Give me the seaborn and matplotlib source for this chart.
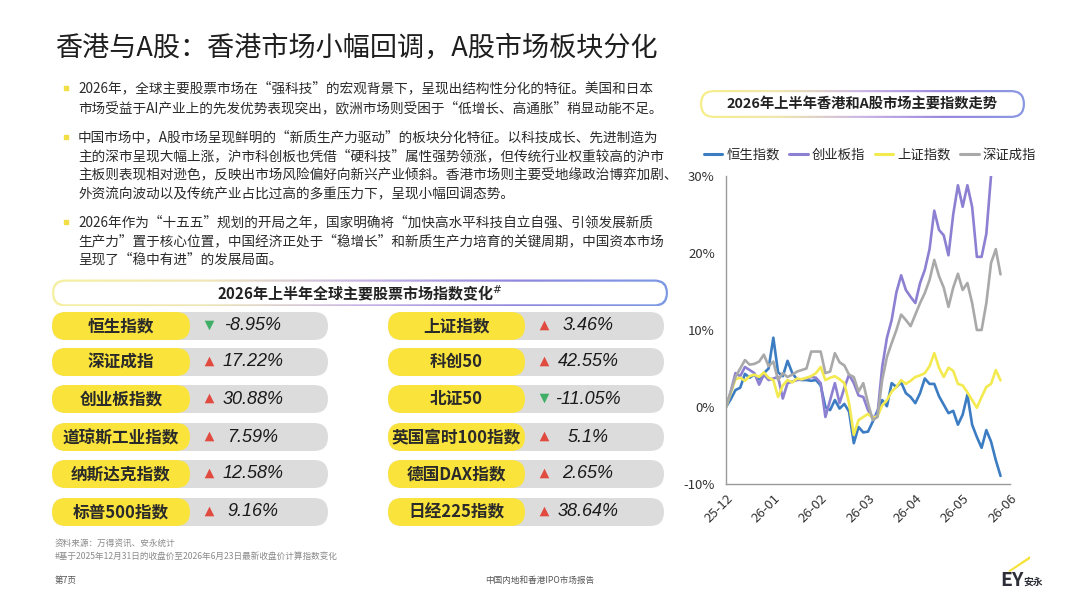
import numpy as np
import pandas as pd
import seaborn as sns
import matplotlib.pyplot as plt
from matplotlib.patches import FancyBboxPatch, Polygon
from matplotlib.lines import Line2D
from matplotlib.colors import LinearSegmentedColormap

sns.set_theme(style='white')
plt.rcParams['font.family'] = ['Noto Sans CJK SC', 'DejaVu Sans']

# ---- data ----
days = list(range(0, 117, 2))
hsi = [0.0, 1.0, 2.2, 2.5, 4.3, 3.8, 4.2, 3.6, 4.4, 5.0, 9.0, 4.5, 4.0, 6.0, 4.4, 3.6, 3.5, 3.5, 3.4, 3.5,
       2.8, 0.0, -0.4, 0.9, -0.2, 0.4, -0.6, -4.7, -2.6, -3.3, -3.2, -1.9, -0.5, 0.9, 0.1, 3.1, 2.6, 3.2, 1.8, 1.3,
       0.5, 1.8, 3.7, 3.0, 3.0, 1.4, 0.3, -0.8, -0.5, -2.3, -1.0, 1.6, -2.3, -3.9, -5.3, -3.0, -4.5, -6.9, -8.95]
chinext = [0.0, 2.0, 4.4, 4.0, 5.2, 4.8, 4.4, 2.9, 4.2, 3.5, 3.7, 3.9, 1.1, 3.1, 3.3, 3.5, 3.6, 3.7, 3.9, 3.8,
           3.1, -1.3, 0.9, 3.1, 0.5, 2.5, 4.2, 3.1, 1.5, 1.3, -0.4, -1.4, -1.0, 5.2, 9.0, 11.3, 14.9, 17.1, 15.2, 14.3,
           13.5, 16.1, 17.8, 20.5, 25.5, 23.0, 22.3, 19.7, 25.0, 28.8, 26.0, 28.8, 26.0, 19.5, 19.5, 22.5, 30.1, 31.5, 30.88]
sse = [0.0, 1.8, 3.6, 3.8, 3.4, 4.0, 4.2, 3.9, 4.5, 3.8, 3.5, 1.3, 2.8, 3.5, 3.2, 3.7, 3.6, 3.8, 4.0, 4.4,
       5.2, 3.5, 3.8, 4.0, 3.6, 3.1, 0.5, -3.6, -1.7, -1.3, -0.9, -1.4, -1.2, 0.2, 0.9, 2.0, 2.6, 3.5, 3.0, 3.4,
       3.9, 4.1, 4.4, 5.3, 7.0, 5.1, 3.9, 5.1, 4.7, 3.0, 2.8, 1.9, 0.9, -0.1, 1.3, 2.6, 3.0, 4.8, 3.46]
szse = [0.0, 2.0, 3.9, 5.0, 6.1, 5.5, 5.6, 5.9, 6.8, 5.3, 5.9, 3.5, 4.4, 3.9, 4.2, 4.6, 4.8, 5.0, 7.2, 7.2,
        7.2, 4.4, 4.6, 7.0, 5.8, 5.4, 4.2, 3.9, 2.0, 3.1, 0.5, -1.7, -1.3, 3.5, 6.5, 8.3, 10.0, 12.0, 11.3, 10.5,
        12.0, 13.5, 14.8, 16.5, 19.1, 17.0, 15.5, 13.0, 15.5, 17.3, 15.2, 16.1, 13.5, 10.0, 10.0, 13.5, 18.7, 20.5, 17.22]
series_names = ['恒生指数', '创业板指', '上证指数', '深证成指']
series_colors = ['#3b7cc3', '#8c80d2', '#f3ea50', '#a9a9a9']
month_ticks = [0, 20, 40, 60, 80, 100, 120]
month_labels = ['25-12', '26-01', '26-02', '26-03', '26-04', '26-05', '26-06']
y_ticks = [-10, 0, 10, 20, 30]

left_names = ['恒生指数', '深证成指', '创业板指数', '道琼斯工业指数', '纳斯达克指数', '标普500指数']
left_values = [-8.95, 17.22, 30.88, 7.59, 12.58, 9.16]
right_names = ['上证指数', '科创50', '北证50', '英国富时100指数', '德国DAX指数', '日经225指数']
right_values = [3.46, 42.55, -11.05, 5.1, 2.65, 38.64]

title = '香港与A股：香港市场小幅回调，A股市场板块分化'
bullets = [
    ['2026年，全球主要股票市场在“强科技”的宏观背景下，呈现出结构性分化的特征。美国和日本',
     '市场受益于AI产业上的先发优势表现突出，欧洲市场则受困于“低增长、高通胀”稍显动能不足。'],
    ['中国市场中，A股市场呈现鲜明的“新质生产力驱动”的板块分化特征。以科技成长、先进制造为',
     '主的深市呈现大幅上涨，沪市科创板也凭借“硬科技”属性强势领涨，但传统行业权重较高的沪市',
     '主板则表现相对逊色，反映出市场风险偏好向新兴产业倾斜。香港市场则主要受地缘政治博弈加剧、',
     '外资流向波动以及传统产业占比过高的多重压力下，呈现小幅回调态势。'],
    ['2026年作为“十五五”规划的开局之年，国家明确将“加快高水平科技自立自强、引领发展新质',
     '生产力”置于核心位置，中国经济正处于“稳增长”和新质生产力培育的关键周期，中国资本市场',
     '呈现了“稳中有进”的发展局面。'],
]

fig = plt.figure(figsize=(10.8, 6.07), dpi=100)
bg = fig.add_axes([0, 0, 1, 1])
bg.set_xlim(0, 1080)
bg.set_ylim(607, 0)
bg.axis('off')


def pill(ax, x0, yc, w, h, color, z=2):
    p = FancyBboxPatch((x0, yc - h / 2), w, h, boxstyle=f'round,pad=0,rounding_size={h / 2}',
                       facecolor=color, edgecolor='none', zorder=z)
    ax.add_patch(p)
    return p


def gradient_pill(ax, x0, yc, w, h, colors, lw=2.2):
    outer = pill(ax, x0, yc, w, h, 'none', z=2)
    cmap = LinearSegmentedColormap.from_list('edge', colors)
    grad = np.linspace(0, 1, 256).reshape(1, -1)
    im = ax.imshow(grad, cmap=cmap, extent=(x0, x0 + w, yc + h / 2, yc - h / 2), aspect='auto', zorder=2)
    im.set_clip_path(outer)
    pill(ax, x0 + lw, yc, w - 2 * lw, h - 2 * lw, 'white', z=3)


# title
bg.text(55, 48, title, fontsize=19.5, color='#1e1e1e', va='center', ha='left')

# bullets
line_y = [[88, 108], [137, 156, 175, 194], [222, 241, 260]]
for para, ys in zip(bullets, line_y):
    bg.scatter([66], [ys[0]], marker='s', s=9, color='#f2df45', zorder=4)
    for line, y in zip(para, ys):
        bg.text(78, y, line, fontsize=9.8, color='#2a2a2a', va='center', ha='left')

# table header
gradient_pill(bg, 52, 293, 616, 27, ['#f6f0a0', '#efe7b8', '#c9b5e6', '#8f86de', '#7d9ae4'])
bg.text(360, 293, '2026年上半年全球主要股票市场指数变化$^{\\#}$', fontsize=10.8, fontweight='bold',
        color='#222222', va='center', ha='center', zorder=5)

# table rows
row_y = [326, 362, 399, 437, 474, 512]
cols = [(52, 190, 328, left_names, left_values), (388, 525, 664, right_names, right_values)]
for x0, xmid, x1, names, vals in cols:
    for y, name, v in zip(row_y, names, vals):
        pill(bg, x0, y, x1 - x0, 28, '#dcdcdc', z=2)
        pill(bg, x0, y, xmid - x0, 28, '#fae43c', z=3)
        bg.text((x0 + xmid) / 2, y, name, fontsize=12, fontweight='bold', color='#2a2a2a',
                va='center', ha='center', zorder=5)
        up = v >= 0
        bg.scatter([xmid + 19], [y - 1], marker='^' if up else 'v', s=48,
                   color='#e04a3f' if up else '#3fae66', zorder=5, linewidths=0)
        bg.text(xmid + 63, y, f'{v:g}%', fontsize=13, style='italic', family='Liberation Sans',
                color='#1a1a1a', va='center', ha='center', zorder=5)

# footnotes
bg.text(55, 543, '资料来源：万得资讯、安永统计', fontsize=6.2, color='#8a8a8a', va='center')
bg.text(55, 556, '#基于2025年12月31日的收盘价至2026年6月23日最新收盘价计算指数变化', fontsize=6.2,
        color='#8a8a8a', va='center')
bg.text(55, 580, '第7页', fontsize=6.2, color='#555555', va='center')
bg.text(540, 580, '中国内地和香港IPO市场报告', fontsize=6.2, color='#555555', va='center', ha='center')
bg.text(1000, 580, 'EY', fontsize=14, fontweight='bold', color='#2e2e38', va='center', ha='left')
bg.text(1023, 582, '安永', fontsize=7, fontweight='bold', color='#2e2e38', va='center', ha='left')
bg.add_patch(Polygon([[1008, 571], [1030, 556], [1030, 559], [1010, 572]], closed=True,
                     facecolor='#f5e23a', edgecolor='none'))

# chart header
gradient_pill(bg, 700, 104, 325, 28, ['#f7ef8a', '#f0e6b0', '#cdb6e6', '#9a88de', '#8a98e2'])
bg.text(862, 104, '2026年上半年香港和A股市场主要指数走势', fontsize=10.3, fontweight='bold',
        color='#222222', va='center', ha='center', zorder=5)

# line chart
ax = fig.add_axes([726 / 1080, 1 - 484 / 607, 284 / 1080, 308 / 607])
df = pd.DataFrame({'day': days, '恒生指数': hsi, '创业板指': chinext, '上证指数': sse, '深证成指': szse})
long = df.melt(id_vars='day', var_name='指数', value_name='涨跌幅')
sns.lineplot(data=long, x='day', y='涨跌幅', hue='指数', hue_order=series_names,
             palette=series_colors, linewidth=1.9, ax=ax, legend=False)
ax.set_xlim(0, 120)
ax.set_ylim(-10, 30)
ax.set_xticks(month_ticks)
ax.set_xticklabels(month_labels, rotation=45, ha='right', rotation_mode='anchor')
ax.set_yticks(y_ticks)
ax.set_yticklabels([f'{t}%' for t in y_ticks])
ax.set_xlabel('')
ax.set_ylabel('')
ax.patch.set_alpha(0)
for side in ['top', 'right']:
    ax.spines[side].set_visible(False)
for side in ['left', 'bottom']:
    ax.spines[side].set_color('#9a9a9a')
    ax.spines[side].set_linewidth(1.0)
ax.tick_params(axis='y', direction='in', length=4, color='#9a9a9a', labelsize=9.5, labelcolor='#333333', pad=8)
ax.tick_params(axis='x', length=0, labelsize=9.5, labelcolor='#333333', pad=6)

handles = [Line2D([0], [0], color=c, lw=2.2) for c in series_colors]
ax.legend(handles, series_names, loc='center', bbox_to_anchor=(870 / 1080, 1 - 155 / 607),
          bbox_transform=fig.transFigure, ncol=4, frameon=False, fontsize=9.6,
          handlelength=1.4, handletextpad=0.3, columnspacing=0.7)

fig.savefig('out.png', dpi=100)
